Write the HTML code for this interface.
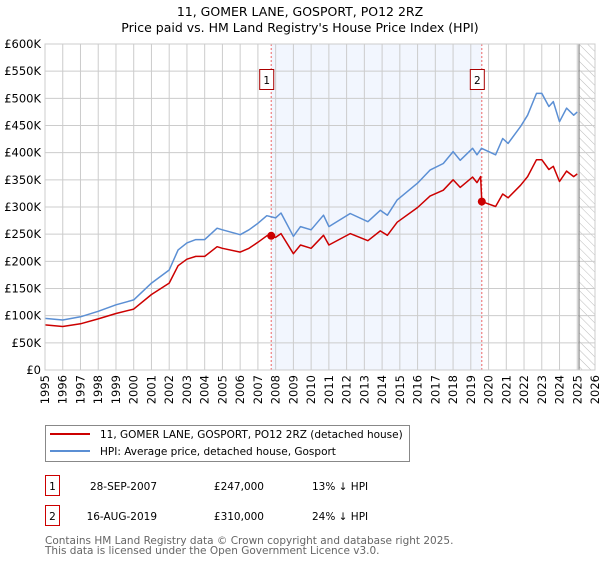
<!DOCTYPE html>
<html><head><meta charset="utf-8"><style>
body{margin:0;background:#fff;}
svg text{font-family:"DejaVu Sans","Liberation Sans",sans-serif;}
</style></head><body>
<svg id="chart" width="600" height="560" xmlns="http://www.w3.org/2000/svg">
<defs>
<pattern id="hatch" width="6" height="6" patternUnits="userSpaceOnUse" patternTransform="rotate(-45)">
<line x1="0" y1="0" x2="0" y2="6" stroke="#bbb" stroke-width="1"/>
</pattern>
</defs>
<text x="300" y="16" text-anchor="middle" font-size="12.5" fill="#000">11, GOMER LANE, GOSPORT, PO12 2RZ</text>
<text x="300" y="32" text-anchor="middle" font-size="12.5" fill="#000">Price paid vs. HM Land Registry's House Price Index (HPI)</text>
<g id="plot"></g>
<g>
<rect x="45.5" y="425.5" width="364" height="36" fill="#fff" stroke="#888"/>
<line x1="50" y1="434" x2="90" y2="434" stroke="#cc0000" stroke-width="2"/>
<text x="100" y="438" font-size="10.5">11, GOMER LANE, GOSPORT, PO12 2RZ (detached house)</text>
<line x1="50" y1="451" x2="90" y2="451" stroke="#5b8fd4" stroke-width="2"/>
<text x="100" y="455" font-size="10.5">HPI: Average price, detached house, Gosport</text>
</g>
<g>
<rect x="45.5" y="475.5" width="14" height="20" fill="#fff" stroke="#cc0000"/>
<text x="52.5" y="490" text-anchor="middle" font-size="10.5">1</text>
<text x="157" y="490" text-anchor="end" font-size="10.5">28-SEP-2007</text>
<text x="264" y="490" text-anchor="end" font-size="10.5">£247,000</text>
<text x="312" y="490" font-size="10.5">13% ↓ HPI</text>
<rect x="45.5" y="505.5" width="14" height="20" fill="#fff" stroke="#cc0000"/>
<text x="52.5" y="520" text-anchor="middle" font-size="10.5">2</text>
<text x="157" y="520" text-anchor="end" font-size="10.5">16-AUG-2019</text>
<text x="264" y="520" text-anchor="end" font-size="10.5">£310,000</text>
<text x="312" y="520" font-size="10.5">24% ↓ HPI</text>
</g>
<text x="45" y="544" font-size="10.5" fill="#666">Contains HM Land Registry data © Crown copyright and database right 2025.</text>
<text x="45" y="554" font-size="10.5" fill="#666">This data is licensed under the Open Government Licence v3.0.</text>
</svg>
<script>
const yTicks=[0,50,100,150,200,250,300,350,400,450,500,550,600];
const yTickLabels=["£0","£50K","£100K","£150K","£200K","£250K","£300K","£350K","£400K","£450K","£500K","£550K","£600K"];
const xTicks=[1995,1996,1997,1998,1999,2000,2001,2002,2003,2004,2005,2006,2007,2008,2009,2010,2011,2012,2013,2014,2015,2016,2017,2018,2019,2020,2021,2022,2023,2024,2025,2026];
const hpiDates=[1995,1996,1997,1998,1999,2000,2001,2002,2002.5,2003,2003.5,2004,2004.7,2005,2006,2006.5,2007,2007.5,2008,2008.3,2009,2009.4,2010,2010.7,2011,2012.2,2013.2,2013.9,2014.3,2014.85,2016,2016.7,2017.45,2018,2018.4,2019.1,2019.35,2019.6,2020.4,2020.8,2021.1,2021.8,2022.2,2022.7,2023,2023.4,2023.65,2024,2024.4,2024.8,2025];
const hpiValues=[95,92,98,108,120,129,160,184,221,234,240,240,261,258,249,258,270,284,280,289,246,264,258,285,264,288,273,294,285,313,344,368,380,402,386,408,396,408,396,426,417,448,469,509,509,485,494,457,482,469,475];
const priceDates=[1995,1996,1997,1998,1999,2000,2001,2002,2002.5,2003,2003.5,2004,2004.7,2005,2006,2006.5,2007,2007.5,2008,2008.3,2009,2009.4,2010,2010.7,2011,2012.2,2013.2,2013.9,2014.3,2014.85,2016,2016.7,2017.45,2018,2018.4,2019.1,2019.35,2019.55,2019.62,2020.4,2020.8,2021.1,2021.8,2022.2,2022.7,2023,2023.4,2023.65,2024,2024.4,2024.8,2025];
const priceValues=[83,80,85,94,104,112,139,160,192,204,209,209,227,224,217,224,235,247,244,251,214,230,224,248,230,251,238,256,248,272,299,320,331,350,336,355,345,356,310,301,324,317,340,356,387,387,369,375,347,366,356,361];
const saleDates=[2007.75,2019.62];
const saleValues=[247,310];
const saleLabels=["1","2"];
const dataEnd=2025.1;

const NS="http://www.w3.org/2000/svg";
const X0=45,X1=595,Y0=370,Y1=44;
const xs=v=>X0+(v-1995)/(2026-1995)*(X1-X0);
const ys=v=>Y0-(v/600)*(Y0-Y1);
const plot=document.getElementById('plot');
function mk(tag,attrs,parent){const e=document.createElementNS(NS,tag);for(const k in attrs)e.setAttribute(k,attrs[k]);(parent||plot).appendChild(e);return e;}

let r=mk('rect',{x:xs(saleDates[0]),y:Y1,width:xs(saleDates[1])-xs(saleDates[0]),height:Y0-Y1,fill:'#f2f6fe'});


let h=mk('rect',{x:xs(dataEnd),y:Y1,width:X1-xs(dataEnd),height:Y0-Y1,fill:'url(#hatch)'});



yTicks.forEach((t,i)=>{
  let g=mk('line',{x1:X0,x2:X1,y1:ys(t),y2:ys(t),stroke:'#ccc','stroke-width':1});
  
  
  let tx=mk('text',{x:X0-4,y:ys(t)+4,'text-anchor':'end','font-size':'11.5'});
  tx.textContent=yTickLabels[i];
  
  
});
xTicks.forEach(t=>{
  let g=mk('line',{x1:xs(t),x2:xs(t),y1:Y1,y2:Y0,stroke:'#ccc','stroke-width':1});
  
  
  const tx0=xs(t)+4, ty0=Y0+5;
  let tx=mk('text',{x:tx0,y:ty0,'text-anchor':'end','font-size':'11.5',transform:'rotate(-90 '+tx0+' '+ty0+')'});
  tx.textContent=t;
  
  
});
let dl=mk('line',{x1:xs(dataEnd),x2:xs(dataEnd),y1:Y1,y2:Y0,stroke:'#888','stroke-width':1.2});



saleDates.forEach((d,i)=>{
  let l=mk('line',{x1:xs(d),x2:xs(d),y1:Y1,y2:Y0,stroke:'#e66','stroke-width':1,'stroke-dasharray':'2,2'});
  
  
});

function poly(ds,vs,color,name){
  const pts=ds.map((d,i)=>xs(d).toFixed(1)+','+ys(vs[i]).toFixed(1)).join(' ');
  let p=mk('polyline',{points:pts,fill:'none',stroke:color,'stroke-width':1.5,'stroke-linejoin':'round'});
  
  
}
poly(hpiDates,hpiValues,'#5b8fd4','hpi-line');
poly(priceDates,priceValues,'#cc0000','price-line');

saleDates.forEach((d,i)=>{
  let c=mk('circle',{cx:xs(d),cy:ys(saleValues[i]),r:4,fill:'#cc0000'});
  
  
  let b=mk('rect',{x:xs(d)-11.5,y:69.5,width:14,height:20,fill:'#fff',stroke:'#aa0000'});
  
  
  let t=mk('text',{x:xs(d)-4.5,y:84,'text-anchor':'middle','font-size':'10.5'});
  t.textContent=saleLabels[i];
  
  
});
let fr=mk('rect',{x:X0,y:Y1,width:X1-X0,height:Y0-Y1,fill:'none',stroke:'#ccc'});


</script>
</body></html>
